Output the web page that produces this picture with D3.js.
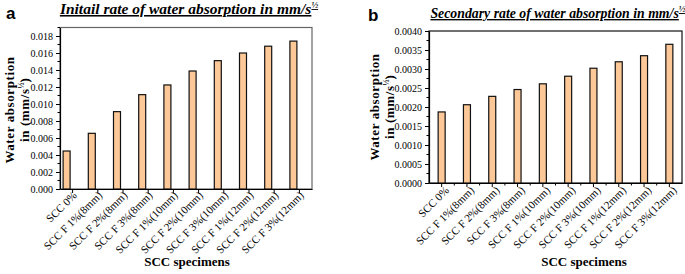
<!DOCTYPE html>
<html><head><meta charset="utf-8">
<script src="https://cdn.jsdelivr.net/npm/d3@7"></script>
<style>
body{margin:0;background:#fff;}
svg{display:block;}
text{font-family:"Liberation Serif","Times New Roman",serif;}
text.letter{font-family:"Liberation Sans",Arial,sans-serif;}
</style></head>
<body>
<svg id="c" width="685" height="274"></svg>
<script>
const categories = ["SCC 0%","SCC F 1%(8mm)","SCC F 2%(8mm)","SCC F 3%(8mm)","SCC F 1%(10mm)","SCC F 2%(10mm)","SCC F 3%(10mm)","SCC F 1%(12mm)","SCC F 2%(12mm)","SCC F 3%(12mm)"];
const initialRate = [0.00447,0.00655,0.0091,0.0111,0.01224,0.01388,0.0151,0.0160,0.0168,0.0174];
const secondaryRate = [0.00187,0.00206,0.00228,0.00246,0.00261,0.00281,0.00302,0.00319,0.00335,0.00365];
const ticksA = [0,0.002,0.004,0.006,0.008,0.010,0.012,0.014,0.016,0.018];
const ticksB = [0,0.0005,0.0010,0.0015,0.0020,0.0025,0.0030,0.0035,0.0040];

const svg = d3.select("#c");
const fill = "#FDC898";

function panel(o){
  const g = svg.append("g");
  const x = d3.scaleBand().domain(categories).range([o.x0,o.x1]);
  const y = d3.scaleLinear().domain([0,o.ymax]).range([o.y0,o.y1]);
  g.append("rect").attr("x",o.x0).attr("y",o.y1).attr("width",o.x1-o.x0).attr("height",o.y0-o.y1)
    .attr("fill","none").attr("stroke",o.frame).attr("stroke-width",1.2);
  g.selectAll("rect.bar").data(o.values).join("rect").attr("class","bar")
    .attr("x",(d,i)=>x(categories[i])+x.bandwidth()/2+o.barOff-3.5)
    .attr("width",7)
    .attr("y",d=>y(d)).attr("height",d=>o.y0-y(d))
    .attr("fill",fill).attr("stroke","#111").attr("stroke-width",1.2);
  const ya = g.append("g").attr("transform",`translate(${o.x0},0)`)
    .call(d3.axisLeft(y).tickValues(o.ticks).tickFormat(d3.format(o.fmt)).tickSize(4).tickSizeOuter(0));
  ya.select(".domain").attr("stroke","#000").attr("stroke-width",1.2);
  ya.selectAll("text").attr("font-size","10px").attr("fill","#000");
  const minor = [];
  for(let i=0;i<o.ticks.length-1;i++) minor.push((o.ticks[i]+o.ticks[i+1])/2);
  if (o.ymax > o.ticks[o.ticks.length-1]) minor.push(o.ticks[o.ticks.length-1]+(o.ticks[1]-o.ticks[0])/2);
  g.selectAll("line.my").data(minor.filter(v=>v<=o.ymax)).join("line").attr("class","my")
    .attr("x1",o.x0-2.5).attr("x2",o.x0).attr("y1",d=>y(d)).attr("y2",d=>y(d)).attr("stroke","#000");
  const xa = g.append("g").attr("transform",`translate(0,${o.y0})`)
    .call(d3.axisBottom(x).tickSize(4).tickSizeOuter(0).tickFormat(""));
  xa.select(".domain").attr("stroke","#000").attr("stroke-width",1.2);
  if (o.minorX){
    g.selectAll("line.mx").data(categories.slice(1)).join("line").attr("class","mx")
      .attr("x1",d=>x(d)).attr("x2",d=>x(d)).attr("y1",o.y0).attr("y2",o.y0+2.5).attr("stroke","#000");
  }
  g.selectAll("text.xl").data(categories).join("text").attr("class","xl")
    .attr("transform",d=>`translate(${x(d)+x.bandwidth()/2+o.lblDx},${o.y0+o.lblDy}) rotate(-45)`)
    .attr("text-anchor","end").attr("font-size","11px").text(d=>d);
  g.append("text").attr("x",o.xtx).attr("y",266).attr("text-anchor","middle")
    .attr("font-size","13px").attr("font-weight","bold").text("SCC specimens");
  const yt = g.append("text").attr("transform",`translate(${o.ytx},${o.yty}) rotate(-90)`)
    .attr("text-anchor","middle").attr("font-size","13px").attr("font-weight","bold");
  yt.append("tspan").attr("x",0).attr("dy",0).attr("letter-spacing","0.6px").text("Water absorption");
  yt.append("tspan").attr("x",0).attr("dy",15).attr("letter-spacing","0.6px").text("in (mm/s");
  yt.append("tspan").attr("font-size","8px").attr("dy",-5).text("½");
  yt.append("tspan").attr("dy",5).text(")");
  const tt = g.append("text").attr("x",o.tx).attr("y",o.ty).attr("text-anchor","middle")
    .attr("font-size",o.tfs).attr("font-weight","bold").attr("font-style","italic")
    .attr("text-decoration","underline");
  tt.append("tspan").text(o.title);
  tt.append("tspan").attr("font-size","9px").attr("dy",-6).text("½");
  g.append("text").attr("class","letter").attr("x",o.lx).attr("y",o.ly)
    .attr("font-size","17px").attr("font-weight","bold").text(o.letter);
}

panel({x0:60,x1:312,y0:189,y1:27.5,ymax:0.019,values:initialRate,ticks:ticksA,fmt:".3f",
  barOff:-6,minorX:false,frame:"#666",lblDx:5,lblDy:7,xtx:187,ytx:14,yty:110,tfs:"15.5px",
  title:"Initail rate of water absorption  in mm/s",tx:189,ty:14,letter:"a",lx:6,ly:19});
panel({x0:429,x1:682,y0:183,y1:31,ymax:0.0040,values:secondaryRate,ticks:ticksB,fmt:".4f",
  barOff:0,minorX:true,frame:"#111",lblDx:8,lblDy:8,xtx:584,ytx:379,yty:107,tfs:"13.8px",
  title:"Secondary rate of water absorption  in mm/s",tx:558,ty:18,letter:"b",lx:368,ly:21});
</script>
</body></html>
